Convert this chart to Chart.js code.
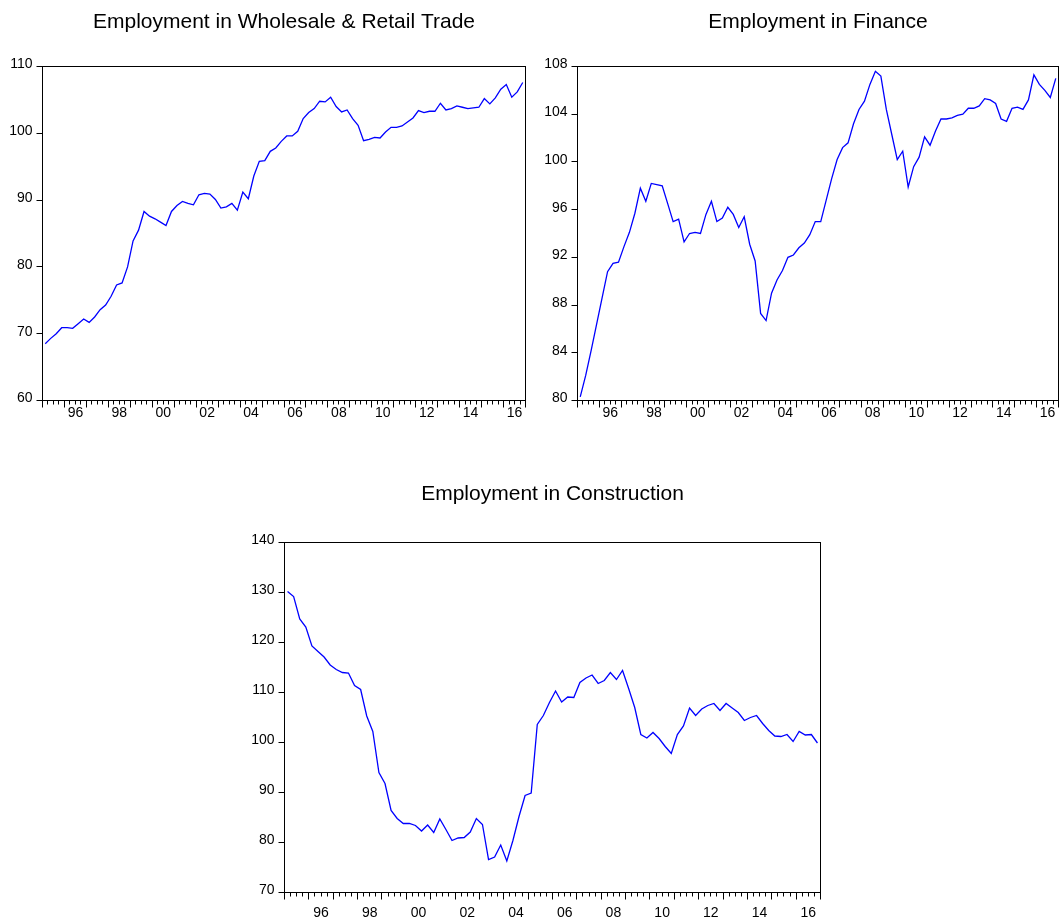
<!DOCTYPE html>
<html>
<head>
<meta charset="utf-8">
<title>Employment by sector</title>
<script src="https://cdn.jsdelivr.net/npm/chart.js@4.4.1/dist/chart.umd.min.js"></script>
<style>
    html, body { margin: 0; padding: 0; background: #fff; }
    body { width: 1060px; height: 918px; position: relative; overflow: hidden; }
    canvas { position: absolute; }
</style>
</head>
<body>
<canvas id="tradeChart" width="540" height="430" style="left:0;top:0"></canvas>
<canvas id="financeChart" width="525" height="430" style="left:535px;top:0"></canvas>
<canvas id="constructionChart" width="600" height="450" style="left:240px;top:470px"></canvas>
<script>
// Quarterly sample 1995Q1 - 2016Q4
const years = [1995, 1996, 1997, 1998, 1999, 2000, 2001, 2002, 2003, 2004, 2005,
               2006, 2007, 2008, 2009, 2010, 2011, 2012, 2013, 2014, 2015, 2016];
const quarters = [];
years.forEach(y => { for (let q = 1; q <= 4; q++) quarters.push(y + 'Q' + q); });

// years that get a label on the time axis
const labelYears = [1996, 1998, 2000, 2002, 2004, 2006, 2008, 2010, 2012, 2014, 2016];

const tradeValues = [
    68.5, 69.3, 70.0, 70.9, 70.9, 70.8, 71.5, 72.2, 71.7, 72.5,
    73.6, 74.3, 75.6, 77.3, 77.6, 80.0, 83.9, 85.5, 88.3, 87.6,
    87.2, 86.7, 86.2, 88.3, 89.2, 89.8, 89.5, 89.3, 90.8, 91.0,
    90.9, 90.1, 88.8, 89.0, 89.5, 88.5, 91.2, 90.2, 93.6, 95.8,
    95.9, 97.3, 97.8, 98.8, 99.6, 99.6, 100.3, 102.2, 103.1, 103.7,
    104.8, 104.7, 105.4, 104.0, 103.2, 103.5, 102.2, 101.2, 98.9, 99.1,
    99.4, 99.3, 100.2, 100.9, 100.9, 101.1, 101.7, 102.3, 103.4, 103.1,
    103.3, 103.3, 104.5, 103.5, 103.7, 104.1, 103.9, 103.7, 103.8, 103.9,
    105.2, 104.4, 105.3, 106.6, 107.3, 105.4, 106.2, 107.6
];

const financeValues = [
    80.3, 82.1, 84.2, 86.4, 88.6, 90.8, 91.5, 91.6, 92.9, 94.1,
    95.7, 97.8, 96.7, 98.2, 98.1, 98.0, 96.5, 95.0, 95.2, 93.3,
    94.0, 94.1, 94.0, 95.6, 96.7, 95.0, 95.3, 96.2, 95.6, 94.5,
    95.4, 93.1, 91.7, 87.3, 86.7, 89.0, 90.1, 90.9, 92.0, 92.2,
    92.8, 93.2, 93.9, 95.0, 95.0, 96.8, 98.6, 100.2, 101.2, 101.6,
    103.2, 104.4, 105.1, 106.5, 107.6, 107.2, 104.4, 102.3, 100.2, 100.9,
    97.9, 99.6, 100.4, 102.1, 101.4, 102.6, 103.6, 103.6, 103.7, 103.9,
    104.0, 104.5, 104.5, 104.7, 105.3, 105.2, 104.9, 103.6, 103.4, 104.5,
    104.6, 104.4, 105.2, 107.3, 106.5, 106.0, 105.4, 107.0
];

const constructionValues = [
    130.2, 129.2, 124.7, 123.1, 119.3, 118.2, 117.1, 115.5, 114.6, 114.0,
    113.9, 111.4, 110.6, 105.3, 102.2, 94.0, 91.8, 86.4, 84.8, 83.8,
    83.8, 83.4, 82.3, 83.5, 82.0, 84.7, 82.6, 80.4, 80.9, 81.0,
    82.1, 84.8, 83.6, 76.6, 77.1, 79.5, 76.3, 80.4, 85.2, 89.4,
    89.9, 103.6, 105.4, 108.0, 110.3, 108.1, 109.1, 109.0, 112.0, 112.9,
    113.5, 111.8, 112.4, 114.0, 112.6, 114.4, 110.8, 107.0, 101.6, 100.9,
    102.0, 100.8, 99.2, 97.8, 101.6, 103.3, 106.9, 105.4, 106.7, 107.4,
    107.8, 106.4, 107.8, 106.9, 106.0, 104.4, 105.0, 105.4, 103.8, 102.4,
    101.3, 101.2, 101.6, 100.2, 102.2, 101.5, 101.6, 99.9
];

const FONT = '"Liberation Sans", Arial, sans-serif';

// frame, quarter ticks, year labels and title, eviews style
const eviewsFrame = {
    id: 'eviewsFrame',
    afterDraw(chart, args, opts) {
        const { ctx, chartArea: a } = chart;
        const xs = chart.scales.x;
        ctx.save();
        ctx.strokeStyle = '#000';
        ctx.lineWidth = 1;
        ctx.strokeRect(a.left, a.top, a.right - a.left, a.bottom - a.top);

        ctx.beginPath();
        for (let k = 0; k <= quarters.length; k++) {
            const px = Math.round(xs.getPixelForValue(k - 0.5) - 0.5) + 0.5;
            const len = k % 4 === 0 ? 7 : 4;
            ctx.moveTo(px, a.bottom);
            ctx.lineTo(px, a.bottom + len);
        }
        ctx.stroke();

        ctx.fillStyle = '#000';
        ctx.font = '14px ' + FONT;
        ctx.textAlign = 'center';
        ctx.textBaseline = 'alphabetic';
        labelYears.forEach(y => {
            const idx = quarters.indexOf(y + 'Q1');
            const px = xs.getPixelForValue(idx + 1.5);
            ctx.fillText(String(y).slice(2), px, a.bottom + opts.labelGap);
        });

        ctx.font = '21px ' + FONT;
        ctx.textBaseline = 'middle';
        ctx.fillText(opts.title, (a.left + a.right) / 2, opts.titleY);
        ctx.restore();
    }
};

const makePanel = (id, values, p) => {
    const ctx = document.getElementById(id).getContext('2d');
    return new Chart(ctx, {
        type: 'line',
        data: {
            labels: quarters,
            datasets: [{
                data: values,
                borderColor: '#0000ff',
                borderWidth: 1.3,
                pointRadius: 0,
                tension: 0,
                fill: false
            }]
        },
        options: {
            responsive: false,
            animation: false,
            layout: { padding: { top: p.top, right: p.right, left: 0, bottom: 0 } },
            plugins: {
                legend: { display: false },
                tooltip: { enabled: false },
                eviewsFrame: { title: p.title, titleY: p.titleY, labelGap: p.labelGap }
            },
            scales: {
                x: {
                    type: 'category',
                    offset: true,
                    grid: { display: false },
                    border: { display: false },
                    ticks: { display: false },
                    afterFit: (s) => { s.height = p.xHeight; }
                },
                y: {
                    min: p.min,
                    max: p.max,
                    ticks: {
                        stepSize: p.step,
                        color: '#000',
                        font: { family: FONT, size: 14 },
                        padding: 4,
                        labelOffset: -2
                    },
                    grid: { drawOnChartArea: false, tickLength: 6, color: '#000', tickColor: '#000' },
                    border: { display: false },
                    afterFit: (s) => { s.width = p.yWidth; }
                }
            }
        },
        plugins: [eviewsFrame]
    });
};

makePanel('tradeChart', tradeValues, {
    title: 'Employment in Wholesale & Retail Trade', titleY: 22,
    min: 60, max: 110, step: 10, labelGap: 16.5,
    top: 66.5, right: 14.5, yWidth: 42.5, xHeight: 29.5
});

makePanel('financeChart', financeValues, {
    title: 'Employment in Finance', titleY: 22,
    min: 80, max: 108, step: 4, labelGap: 16.5,
    top: 66.5, right: 1.5, yWidth: 42.5, xHeight: 29.5
});

makePanel('constructionChart', constructionValues, {
    title: 'Employment in Construction', titleY: 24,
    min: 70, max: 140, step: 10, labelGap: 24,
    top: 72.5, right: 19.5, yWidth: 44.5, xHeight: 27.5
});
</script>
</body>
</html>
